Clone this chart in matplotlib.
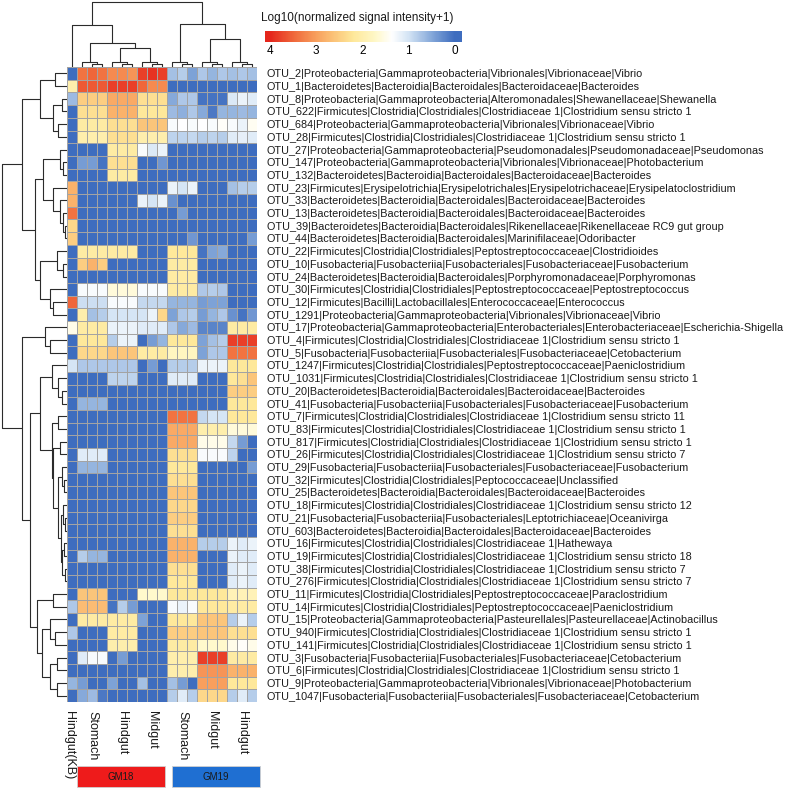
import numpy as np
import matplotlib
matplotlib.use('Agg')
import matplotlib.pyplot as plt
from matplotlib.colors import LinearSegmentedColormap
from matplotlib.patches import Rectangle
from matplotlib.transforms import blended_transform_factory

plt.rcParams['font.family'] = ['Liberation Sans', 'DejaVu Sans']

otu_labels = [
    "OTU_2|Proteobacteria|Gammaproteobacteria|Vibrionales|Vibrionaceae|Vibrio",
    "OTU_1|Bacteroidetes|Bacteroidia|Bacteroidales|Bacteroidaceae|Bacteroides",
    "OTU_8|Proteobacteria|Gammaproteobacteria|Alteromonadales|Shewanellaceae|Shewanella",
    "OTU_622|Firmicutes|Clostridia|Clostridiales|Clostridiaceae 1|Clostridium sensu stricto 1",
    "OTU_684|Proteobacteria|Gammaproteobacteria|Vibrionales|Vibrionaceae|Vibrio",
    "OTU_28|Firmicutes|Clostridia|Clostridiales|Clostridiaceae 1|Clostridium sensu stricto 1",
    "OTU_27|Proteobacteria|Gammaproteobacteria|Pseudomonadales|Pseudomonadaceae|Pseudomonas",
    "OTU_147|Proteobacteria|Gammaproteobacteria|Vibrionales|Vibrionaceae|Photobacterium",
    "OTU_132|Bacteroidetes|Bacteroidia|Bacteroidales|Bacteroidaceae|Bacteroides",
    "OTU_23|Firmicutes|Erysipelotrichia|Erysipelotrichales|Erysipelotrichaceae|Erysipelatoclostridium",
    "OTU_33|Bacteroidetes|Bacteroidia|Bacteroidales|Bacteroidaceae|Bacteroides",
    "OTU_13|Bacteroidetes|Bacteroidia|Bacteroidales|Bacteroidaceae|Bacteroides",
    "OTU_39|Bacteroidetes|Bacteroidia|Bacteroidales|Rikenellaceae|Rikenellaceae RC9 gut group",
    "OTU_44|Bacteroidetes|Bacteroidia|Bacteroidales|Marinifilaceae|Odoribacter",
    "OTU_22|Firmicutes|Clostridia|Clostridiales|Peptostreptococcaceae|Clostridioides",
    "OTU_10|Fusobacteria|Fusobacteriia|Fusobacteriales|Fusobacteriaceae|Fusobacterium",
    "OTU_24|Bacteroidetes|Bacteroidia|Bacteroidales|Porphyromonadaceae|Porphyromonas",
    "OTU_30|Firmicutes|Clostridia|Clostridiales|Peptostreptococcaceae|Peptostreptococcus",
    "OTU_12|Firmicutes|Bacilli|Lactobacillales|Enterococcaceae|Enterococcus",
    "OTU_1291|Proteobacteria|Gammaproteobacteria|Vibrionales|Vibrionaceae|Vibrio",
    "OTU_17|Proteobacteria|Gammaproteobacteria|Enterobacteriales|Enterobacteriaceae|Escherichia-Shigella",
    "OTU_4|Firmicutes|Clostridia|Clostridiales|Clostridiaceae 1|Clostridium sensu stricto 1",
    "OTU_5|Fusobacteria|Fusobacteriia|Fusobacteriales|Fusobacteriaceae|Cetobacterium",
    "OTU_1247|Firmicutes|Clostridia|Clostridiales|Peptostreptococcaceae|Paeniclostridium",
    "OTU_1031|Firmicutes|Clostridia|Clostridiales|Clostridiaceae 1|Clostridium sensu stricto 1",
    "OTU_20|Bacteroidetes|Bacteroidia|Bacteroidales|Bacteroidaceae|Bacteroides",
    "OTU_41|Fusobacteria|Fusobacteriia|Fusobacteriales|Fusobacteriaceae|Fusobacterium",
    "OTU_7|Firmicutes|Clostridia|Clostridiales|Clostridiaceae 1|Clostridium sensu stricto 11",
    "OTU_83|Firmicutes|Clostridia|Clostridiales|Clostridiaceae 1|Clostridium sensu stricto 1",
    "OTU_817|Firmicutes|Clostridia|Clostridiales|Clostridiaceae 1|Clostridium sensu stricto 1",
    "OTU_26|Firmicutes|Clostridia|Clostridiales|Clostridiaceae 1|Clostridium sensu stricto 7",
    "OTU_29|Fusobacteria|Fusobacteriia|Fusobacteriales|Fusobacteriaceae|Fusobacterium",
    "OTU_32|Firmicutes|Clostridia|Clostridiales|Peptococcaceae|Unclassified",
    "OTU_25|Bacteroidetes|Bacteroidia|Bacteroidales|Bacteroidaceae|Bacteroides",
    "OTU_18|Firmicutes|Clostridia|Clostridiales|Clostridiaceae 1|Clostridium sensu stricto 12",
    "OTU_21|Fusobacteria|Fusobacteriia|Fusobacteriales|Leptotrichiaceae|Oceanivirga",
    "OTU_603|Bacteroidetes|Bacteroidia|Bacteroidales|Bacteroidaceae|Bacteroides",
    "OTU_16|Firmicutes|Clostridia|Clostridiales|Clostridiaceae 1|Hathewaya",
    "OTU_19|Firmicutes|Clostridia|Clostridiales|Clostridiaceae 1|Clostridium sensu stricto 18",
    "OTU_38|Firmicutes|Clostridia|Clostridiales|Clostridiaceae 1|Clostridium sensu stricto 7",
    "OTU_276|Firmicutes|Clostridia|Clostridiales|Clostridiaceae 1|Clostridium sensu stricto 7",
    "OTU_11|Firmicutes|Clostridia|Clostridiales|Peptostreptococcaceae|Paraclostridium",
    "OTU_14|Firmicutes|Clostridia|Clostridiales|Peptostreptococcaceae|Paeniclostridium",
    "OTU_15|Proteobacteria|Gammaproteobacteria|Pasteurellales|Pasteurellaceae|Actinobacillus",
    "OTU_940|Firmicutes|Clostridia|Clostridiales|Clostridiaceae 1|Clostridium sensu stricto 1",
    "OTU_141|Firmicutes|Clostridia|Clostridiales|Clostridiaceae 1|Clostridium sensu stricto 1",
    "OTU_3|Fusobacteria|Fusobacteriia|Fusobacteriales|Fusobacteriaceae|Cetobacterium",
    "OTU_6|Firmicutes|Clostridia|Clostridiales|Clostridiaceae 1|Clostridium sensu stricto 1",
    "OTU_9|Proteobacteria|Gammaproteobacteria|Vibrionales|Vibrionaceae|Photobacterium",
    "OTU_1047|Fusobacteria|Fusobacteriia|Fusobacteriales|Fusobacteriaceae|Cetobacterium",
]

# column order: Hindgut(KB), then GM18 stomach/hindgut/midgut, GM19 stomach/midgut/hindgut (3 replicates each)
sample_labels = ['Hindgut(KB)', 'Stomach', 'Hindgut', 'Midgut', 'Stomach', 'Midgut', 'Hindgut']
sample_reps = [1, 3, 3, 3, 3, 3, 3]
groups = ['GM18', 'GM19']

# log10(normalized signal intensity + 1), rows follow otu_labels
log_intensity = [
    [0.0, 3.4, 3.5, 3.4, 3.2, 3.2, 3.1, 3.8, 3.9, 3.8, 0.7, 0.8, 0.45, 0.75, 0.6, 0.75, 0.7, 0.75, 0.7],
    [2.0, 3.6, 3.6, 3.6, 3.8, 3.8, 3.8, 3.5, 3.2, 3.2, 0, 0, 0, 0, 0, 0, 0, 0, 0],
    [0.65, 2.5, 2.5, 2.5, 2.9, 2.9, 2.9, 2.3, 2.3, 2.3, 0.5, 0.75, 0.75, 0.05, 0.05, 0.05, 1.05, 1.2, 1.1],
    [0, 2.3, 2.3, 2.3, 2.8, 2.8, 2.8, 2.2, 2.2, 2.2, 0.65, 0.55, 0.75, 0.5, 0.1, 0.6, 0.6, 0.65, 0.6],
    [0, 2.1, 2.1, 2.1, 2.3, 2.3, 2.3, 2.6, 2.6, 2.6, 1.3, 1.35, 1.3, 1.35, 1.3, 1.4, 1.3, 1.2, 1.45],
    [0, 2.0, 2.0, 2.0, 2.3, 2.3, 2.3, 2.0, 2.0, 2.0, 0.85, 0.85, 0.9, 0.8, 0.85, 0.8, 1.1, 1.15, 1.1],
    [0, 0, 0, 0, 2.1, 2.1, 2.1, 1.3, 1.05, 1.2, 0, 0, 0, 0, 0, 0, 0, 0, 0],
    [0, 0.4, 0.4, 0.05, 2.3, 2.3, 2.3, 0, 0, 0.35, 0, 0, 0, 0, 0, 0, 0, 0, 0],
    [0, 0, 0, 0, 2.1, 2.1, 2.1, 0, 0, 0, 0, 0, 0, 0, 0, 0, 0, 0, 0],
    [2.8, 0, 0, 0, 0, 0, 0, 0, 0, 0, 1.2, 1.0, 1.2, 0, 0, 0, 0.7, 0.8, 0.8],
    [2.8, 0, 0, 0, 0, 0, 0, 1.2, 1.0, 1.2, 0.3, 0, 0, 0, 0, 0, 0, 0, 0],
    [3.4, 0, 0, 0, 0, 0, 0, 0, 0, 0, 0, 0.4, 0, 0, 0, 0, 0, 0, 0],
    [2.4, 0, 0, 0, 0, 0, 0, 0, 0, 0, 0, 0, 0, 0, 0, 0, 0, 0, 0],
    [2.5, 0, 0, 0, 0, 0, 0, 0, 0, 0, 0, 0, 0.35, 0, 0, 0, 0, 0, 0.4],
    [0, 2.1, 2.1, 2.1, 2.1, 2.1, 2.1, 0, 0, 0, 2.2, 2.2, 2.2, 0.05, 0.45, 0.5, 0, 0, 0],
    [0, 2.5, 2.8, 2.5, 0, 0, 0, 0, 0, 0, 2.1, 2.1, 2.1, 0, 0, 0, 0, 0, 0],
    [0, 0, 0, 0, 0, 0, 0, 0, 0, 0, 2.1, 2.1, 2.1, 0, 0, 0, 0, 0, 0],
    [0, 1.3, 1.3, 1.3, 1.6, 1.6, 1.6, 1.3, 1.3, 1.3, 2.1, 2.1, 2.1, 0.75, 0.8, 0.75, 0, 0, 0],
    [3.5, 0.95, 0.95, 0.95, 1.3, 1.3, 1.3, 0.9, 0.9, 0.9, 0.6, 0.6, 0.6, 0.4, 0.45, 0.45, 0, 0, 0],
    [0, 2.0, 0.7, 0.8, 1.0, 1.0, 1.0, 1.0, 1.2, 2.4, 0.45, 0.75, 0.8, 0.4, 0.6, 0.75, 0.3, 0.05, 0.35],
    [1.5, 2.1, 2.1, 2.1, 1.2, 1.2, 1.2, 1.1, 1.1, 1.1, 0.75, 0.5, 0.65, 0.2, 0.2, 0.2, 2.1, 2.1, 2.1],
    [0, 2.2, 2.2, 2.2, 0.8, 1.2, 1.2, 0, 0.4, 0.6, 2.2, 2.2, 2.2, 0.45, 0.7, 0.8, 3.8, 3.8, 3.8],
    [0, 2.4, 2.4, 2.4, 2.6, 2.6, 2.6, 2.1, 2.1, 2.1, 1.8, 1.8, 1.8, 0.45, 0.75, 0.75, 3.4, 3.4, 3.4],
    [1.0, 0.75, 0.75, 0.75, 0.75, 0.75, 0.75, 0, 0.4, 0, 0.8, 0.8, 0.8, 1.2, 1.2, 1.2, 2.2, 2.2, 2.2],
    [0, 0, 0, 0, 0.85, 0.85, 0.85, 0, 0, 0, 1.1, 1.1, 1.1, 0, 0, 0, 2.2, 2.3, 2.6],
    [0, 0, 0, 0, 0, 0, 0, 0, 0, 0, 0, 0, 0, 0, 0, 0, 2.5, 2.5, 2.5],
    [0, 0.6, 0.6, 0.6, 0, 0, 0, 0, 0, 0, 0, 0, 0, 0, 0, 0, 2.2, 2.2, 2.2],
    [0, 0, 0, 0, 0, 0, 0, 0, 0, 0, 3.4, 3.4, 3.4, 0.9, 1.0, 1.0, 2.2, 2.2, 2.2],
    [0, 0, 0, 0, 0, 0, 0, 0, 0, 0, 2.9, 2.9, 2.9, 2.0, 2.0, 2.0, 1.6, 1.6, 1.6],
    [0, 0, 0, 0, 0, 0, 0, 0, 0, 0, 2.9, 2.9, 2.9, 1.5, 1.5, 1.5, 0.9, 0.4, 0],
    [0, 1.1, 1.1, 1.1, 0, 0, 0, 0, 0, 0, 2.3, 2.3, 2.3, 1.3, 1.3, 1.3, 0.85, 0, 0],
    [0, 0.6, 0.6, 0.6, 0, 0, 0, 0, 0, 0, 2.2, 2.2, 2.2, 0, 0, 0, 0, 0, 0.4],
    [0, 0, 0, 0, 0, 0, 0, 0, 0, 0, 2.3, 2.3, 2.3, 0, 0, 0, 0, 0, 0],
    [0, 0, 0, 0, 0, 0, 0, 0, 0, 0, 2.6, 2.6, 2.6, 0, 0, 0, 0, 0, 0],
    [0, 0, 0, 0, 0, 0, 0, 0, 0, 0, 2.4, 2.4, 2.4, 0, 0, 0, 0, 0, 0],
    [0, 0, 0, 0, 0, 0, 0, 0, 0, 0, 2.5, 2.5, 2.5, 0, 0, 0, 0, 0, 0],
    [0, 0, 0, 0, 0, 0, 0, 0, 0, 0, 2.3, 2.3, 2.3, 0, 0, 0, 0, 0, 0],
    [0, 0, 0, 0, 0, 0, 0, 0, 0, 0, 2.8, 2.8, 2.8, 0.8, 0.8, 0.8, 1.2, 1.1, 1.2],
    [0, 0.8, 0.6, 0.6, 0, 0, 0, 0, 0, 0, 2.8, 2.8, 2.8, 0, 0, 0, 1.2, 1.1, 1.1],
    [0, 0, 0, 0, 0, 0, 0, 0, 0, 0, 2.3, 2.3, 2.3, 0, 0, 0, 1.1, 1.2, 1.1],
    [0, 0, 0, 0, 0, 0, 0, 0, 0, 0, 2.2, 2.2, 2.2, 0, 0, 0, 1.1, 1.2, 1.1],
    [0, 2.6, 2.6, 2.6, 0, 0, 0, 1.7, 1.7, 1.7, 2.2, 2.2, 2.2, 2.2, 2.2, 2.2, 1.9, 1.9, 1.9],
    [0.75, 2.7, 2.7, 2.7, 0.05, 0.8, 0.4, 0, 0, 0, 1.3, 1.2, 1.3, 2.2, 2.2, 2.2, 2.1, 2.1, 2.1],
    [0, 2.1, 2.1, 2.1, 2.1, 2.1, 2.1, 0.45, 0, 0, 2.2, 2.2, 2.2, 2.6, 2.6, 2.6, 0.8, 1.2, 0.8],
    [0.75, 0, 0, 0, 2.1, 2.1, 2.1, 0, 0, 0, 2.5, 2.5, 2.5, 2.6, 2.6, 2.6, 2.3, 2.3, 2.3],
    [0, 0, 0, 0, 2.0, 2.0, 2.0, 0, 0, 0, 2.1, 2.1, 2.1, 1.7, 1.7, 1.7, 1.5, 1.4, 1.5],
    [0, 1.1, 1.3, 1.3, 0, 0.4, 0, 0, 0, 0, 2.0, 2.0, 2.0, 3.8, 3.8, 3.8, 2.1, 2.1, 2.1],
    [0, 0, 0, 0, 0, 0, 0, 0, 0, 0, 2.0, 2.0, 2.0, 3.1, 3.1, 3.1, 2.8, 2.8, 2.8],
    [0.6, 0.4, 0, 0, 0.45, 0, 0, 0.7, 0, 0, 0.7, 0.4, 0, 3.0, 3.0, 3.0, 2.2, 2.2, 2.2],
    [0, 0.5, 0.65, 0.1, 0, 0, 0, 0, 0, 0, 0.8, 1.1, 0.8, 2.4, 2.4, 2.4, 0.8, 1.1, 0.8],
]

# dendrograms as nested (merge height, left, right); leaves are row / column indices
A = (27, (12, 0, 1), (14, (5, 2, 3), (9, 4, 5)))
C = (7, 6, (4, 7, 8))
D = (14, 9, (7, 10, (4, 11, (2, 12, 13))))
E = (10, 14, (4, 15, 16))
F = (17, 17, (14, 18, 19))
B = (32, (24, C, D), (27, E, F))
R = (22, 20, (17, 21, 22))
W = (15, 23, (9, 24, (5, 25, 26)))
Z = (9, (5, 31, (3, 32, 33)), (6, (4, 34, (2, 35, 36)), (5, (3, 37, 38), (2, 39, 40))))
X = (15, (9, 27, 28), (14, (7, 29, 30), Z))
V = (30, (14, 41, 42), (25, (17, 43, (12, 44, 45)), (17, (10, 46, 47), (10, 48, 49))))
row_tree = (65.5, (45, A, B), (45, R, (37, (27, W, X), V)))

col_tree = (65,
            (42, 0, (24, (5, 1, (3, 2, 3)), (19, (5, 4, (3, 5, 6)), (5, 7, (3, 8, 9))))),
            (43, (5, 10, (3, 11, 12)), (28, (5, 13, (3, 14, 15)), (5, 16, (3, 17, 18)))))

cmap = LinearSegmentedColormap.from_list('intensity', [
    (0.0, '#3E6DBF'), (0.125, '#86A9DA'), (0.25, '#D5E5F5'), (0.34, '#FFFFFF'),
    (0.43, '#FFF8C8'), (0.55, '#FEE89A'), (0.67, '#FBBE74'), (0.75, '#F8A05E'),
    (0.87, '#F06A3C'), (1.0, '#E5261C')])


def draw_tree(ax, node, side):
    if isinstance(node, int):
        return node + 0.5, 0
    h, left, right = node
    pl, hl = draw_tree(ax, left, side)
    pr, hr = draw_tree(ax, right, side)
    hs = [hl, h, h, hr]
    ps = [pl, pl, pr, pr]
    if side == 'left':
        ax.plot(hs, ps, color='#2b2b2b', lw=0.8, solid_capstyle='butt')
    else:
        ax.plot(ps, hs, color='#2b2b2b', lw=0.8, solid_capstyle='butt')
    return (pl + pr) / 2, h


W_PX, H_PX = 800, 790
fig = plt.figure(figsize=(W_PX / 100, H_PX / 100), dpi=100)

hm_l, hm_r, hm_t, hm_b = 67, 257, 67, 702
data = np.array(log_intensity)
n_rows, n_cols = data.shape

ax = fig.add_axes([hm_l / W_PX, 1 - hm_b / H_PX, (hm_r - hm_l) / W_PX, (hm_b - hm_t) / H_PX])
ax.pcolormesh(np.arange(n_cols + 1), np.arange(n_rows + 1), data, cmap=cmap, vmin=0, vmax=4,
              edgecolors='#a3a3a3', linewidth=0.5)
ax.set_xlim(0, n_cols)
ax.set_ylim(n_rows, 0)
for s in ax.spines.values():
    s.set_visible(False)
ax.yaxis.tick_right()
ax.set_yticks(np.arange(n_rows) + 0.5)
ax.set_yticklabels(otu_labels, fontsize=7.8, color='#1a1a1a')
ax.set_xticks([])
ax.tick_params(length=0, pad=7)

# sample names under the columns (first one sits a little left of its cell)
trans = blended_transform_factory(ax.transData, fig.transFigure)
starts = np.concatenate([[0], np.cumsum(sample_reps)[:-1]])
centers = starts + np.array(sample_reps) / 2
centers[0] -= 0.3
for x, name in zip(centers, sample_labels):
    ax.text(x, 1 - 711 / H_PX, name, transform=trans, rotation=270, fontsize=9,
            va='top', ha='center', color='#1a1a1a', rotation_mode='default')

# row dendrogram
ax_r = fig.add_axes([0, 1 - hm_b / H_PX, hm_l / W_PX, (hm_b - hm_t) / H_PX])
draw_tree(ax_r, row_tree, 'left')
ax_r.set_xlim(hm_l, 0)
ax_r.set_ylim(n_rows, 0)
ax_r.axis('off')

# column dendrogram
ax_c = fig.add_axes([hm_l / W_PX, 1 - hm_t / H_PX, (hm_r - hm_l) / W_PX, hm_t / H_PX])
draw_tree(ax_c, col_tree, 'top')
ax_c.set_xlim(0, n_cols)
ax_c.set_ylim(0, hm_t)
ax_c.axis('off')

# group bars under the sample names
group_colors = ['#EE1B1B', '#1F6FD2']
spans = [(0.97, 9.8), (10.47, 19.3)]
for name, col, (x0, x1) in zip(groups, group_colors, spans):
    ax.add_patch(Rectangle((x0, 1 - 787 / H_PX), x1 - x0, 21 / H_PX, transform=trans,
                           facecolor=col, edgecolor='#d0d0d0', lw=0.6, clip_on=False))
    ax.text((x0 + x1) / 2, 1 - 776.5 / H_PX, name, transform=trans, ha='center', va='center',
            fontsize=7, color='#1a1a1a')

# colour key
ax_k = fig.add_axes([265 / W_PX, 1 - 42 / H_PX, 197 / W_PX, 11 / H_PX])
grad = np.linspace(-0.15, 4.1, 300)
ax_k.imshow(grad[None, :], aspect='auto', cmap=cmap, vmin=0, vmax=4, extent=(-0.15, 4.1, 0, 1))
ax_k.set_xlim(4.1, -0.15)
ax_k.set_yticks([])
ax_k.set_xticks([4, 3, 2, 1, 0])
ax_k.set_xticklabels(['4', '3', '2', '1', '0'], fontsize=8.5)
ax_k.tick_params(length=0, pad=2)
for s in ax_k.spines.values():
    s.set_visible(False)
fig.text(261 / W_PX, 1 - 18 / H_PX, 'Log10(normalized signal intensity+1)', fontsize=8.5,
         ha='left', va='center', color='#1a1a1a')

fig.savefig('out.png', dpi=100, facecolor='white')
